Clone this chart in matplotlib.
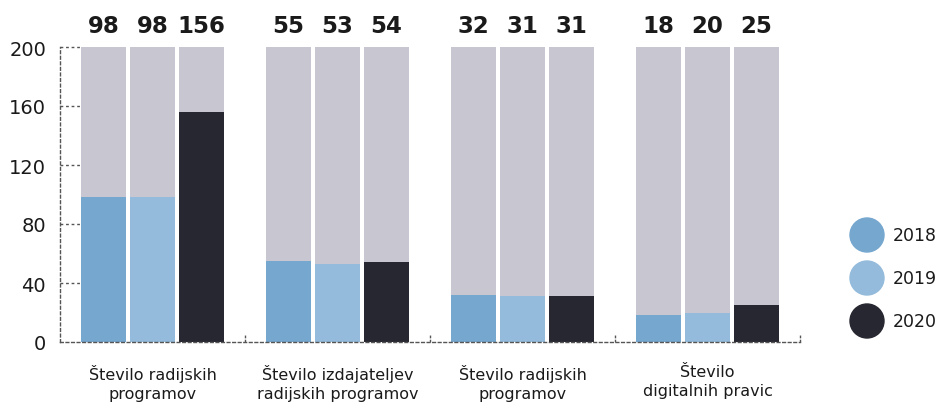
import matplotlib.pyplot as plt
from matplotlib.patches import Circle
from matplotlib.transforms import blended_transform_factory
import numpy as np

categories = ['Število radijskih\nprogramov', 'Število izdajateljev\nradijskih programov',
              'Število radijskih\nprogramov', 'Število\ndigitalnih pravic']
years = ['2018', '2019', '2020']
v2018 = [98, 55, 32, 18]
v2019 = [98, 53, 31, 20]
v2020 = [156, 54, 31, 25]
y_ticks = [0, 40, 80, 120, 160, 200]
y_max = 200

colors = ['#76a7cf', '#94bbdb', '#262730']
bg_color = '#c8c7d1'
dark = '#1a1a1a'

plt.rcParams['font.family'] = ['DejaVu Sans']

fig = plt.figure(figsize=(9.42, 4.06), dpi=100)
ax = fig.add_axes([60 / 942, 63 / 406, 740 / 942, 295 / 406])

x = np.arange(len(categories))
offset = 0.265
width = 0.243
series = [v2018, v2019, v2020]
top_trans = blended_transform_factory(ax.transData, ax.transAxes)
for i, vals in enumerate(series):
    xs = x + (i - 1) * offset
    ax.bar(xs, [y_max] * len(xs), width=width, color=bg_color, zorder=1)
    ax.bar(xs, vals, width=width, color=colors[i], zorder=2)
    for xi, v in zip(xs, vals):
        ax.text(xi, 1.035, str(v), transform=top_trans,
                ha='center', va='bottom', fontsize=16.5, fontweight='bold', color=dark)

ax.set_xlim(-0.5, 3.5)
ax.set_ylim(0, y_max)

# dashed spines
for side in ['top', 'right']:
    ax.spines[side].set_visible(False)
for side in ['left', 'bottom']:
    ax.spines[side].set_linestyle((0, (2, 2)))
    ax.spines[side].set_color('#555555')
    ax.spines[side].set_linewidth(1)

# short dashed marks at y ticks
trans = blended_transform_factory(ax.transAxes, ax.transData)
for t in y_ticks[1:]:
    ax.plot([0, 20 / 740], [t, t], transform=trans, color='#555555', lw=1,
            ls=(0, (2, 2)), clip_on=False, zorder=0)

# small marks at group boundaries
for b in [0.5, 1.5, 2.5, 3.5]:
    ax.plot([b, b], [0, 5], color='#555555', lw=1, ls=(0, (2, 1)), clip_on=False)

ax.set_yticks(y_ticks)
ax.set_yticklabels([str(t) for t in y_ticks], fontsize=14, color=dark)
ax.tick_params(axis='y', length=0, pad=10)
ax.set_xticks(x)
ax.set_xticklabels(categories, fontsize=11.5, color=dark, linespacing=1.3)
ax.tick_params(axis='x', length=0, pad=16)

# legend as circles (in inches so they stay round)
leg_y = [236, 279, 322]
for yr, c, ly in zip(years, colors, leg_y):
    fig.patches.append(Circle((867 / 100, (406 - ly) / 100), 0.17, color=c,
                              transform=fig.dpi_scale_trans))
    fig.text(893 / 942, 1 - ly / 406, yr, ha='left', va='center', fontsize=12.5, color=dark)

fig.savefig('out.png', dpi=100)
